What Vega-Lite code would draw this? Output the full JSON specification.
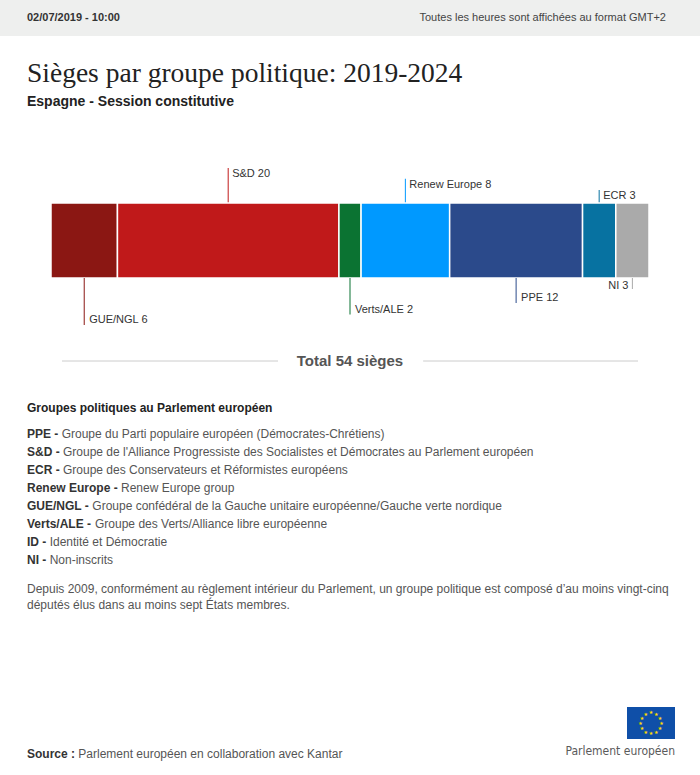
{
  "$schema": "https://vega.github.io/schema/vega-lite/v6.json",
  "padding": 0,
  "background": "white",
  "spacing": 0,
  "bounds": "flush",
  "center": true,
  "config": {"view": {"stroke": null}, "font": "Liberation Sans", "text": {"font": "Liberation Sans"}},
  "datasets": {
    "seats": [
      {"group": "GUE/NGL", "seats": 6, "order": 1, "country": "Espagne"},
      {"group": "S&D", "seats": 20, "order": 2, "country": "Espagne"},
      {"group": "Verts/ALE", "seats": 2, "order": 3, "country": "Espagne"},
      {"group": "Renew Europe", "seats": 8, "order": 4, "country": "Espagne"},
      {"group": "PPE", "seats": 12, "order": 5, "country": "Espagne"},
      {"group": "ECR", "seats": 3, "order": 6, "country": "Espagne"},
      {"group": "NI", "seats": 3, "order": 7, "country": "Espagne"}
    ],
    "legend": [
      {"code": "PPE -", "desc": "Groupe du Parti populaire européen (Démocrates-Chrétiens)"},
      {"code": "S&D -", "desc": "Groupe de l'Alliance Progressiste des Socialistes et Démocrates au Parlement européen"},
      {"code": "ECR -", "desc": "Groupe des Conservateurs et Réformistes européens"},
      {"code": "Renew Europe -", "desc": "Renew Europe group"},
      {"code": "GUE/NGL -", "desc": "Groupe confédéral de la Gauche unitaire européenne/Gauche verte nordique"},
      {"code": "Verts/ALE -", "desc": "Groupe des Verts/Alliance libre européenne"},
      {"code": "ID -", "desc": "Identité et Démocratie"},
      {"code": "NI -", "desc": "Non-inscrits"}
    ],
    "stars": [
      {"star": 1}, {"star": 2}, {"star": 3}, {"star": 4}, {"star": 5}, {"star": 6},
      {"star": 7}, {"star": 8}, {"star": 9}, {"star": 10}, {"star": 11}, {"star": 12}
    ]
  },
  "vconcat": [
    {
      "width": 700,
      "height": 36,
      "view": {"fill": "#eeefee", "stroke": null},
      "data": {"values": [{}]},
      "title": {
        "text": "Sièges par groupe politique: 2019-2024",
        "subtitle": "Espagne - Session constitutive",
        "orient": "bottom",
        "anchor": "start",
        "frame": "group",
        "dx": 27,
        "offset": 24,
        "font": "Liberation Serif",
        "fontSize": 27.5,
        "fontWeight": "normal",
        "color": "#222222",
        "subtitleFont": "Liberation Sans",
        "subtitleFontSize": 14,
        "subtitleFontWeight": "bold",
        "subtitleColor": "#222222",
        "subtitlePadding": 7
      },
      "layer": [
        {
          "mark": {"type": "text", "align": "left", "baseline": "middle", "fontSize": 11, "fontWeight": "bold", "color": "#333333", "text": "02/07/2019 - 10:00"},
          "encoding": {"x": {"datum": 0, "type": "quantitative", "scale": {"domain": [0, 1], "range": [27, 666]}, "axis": null}}
        },
        {
          "mark": {"type": "text", "align": "right", "baseline": "middle", "fontSize": 11, "color": "#444444", "text": "Toutes les heures sont affichées au format GMT+2"},
          "encoding": {"x": {"datum": 1, "type": "quantitative"}}
        }
      ]
    },
    {
      "width": 598,
      "height": 167,
      "data": {"name": "seats"},
      "transform": [
        {"stack": "seats", "groupby": [], "sort": [{"field": "order", "order": "ascending"}], "as": ["x0", "x1"]},
        {"fold": ["x0", "x1"], "as": ["edge", "pos"]},
        {"aggregate": [{"op": "mean", "field": "pos", "as": "mid"}], "groupby": ["group", "seats", "order"]},
        {"window": [{"op": "row_number", "as": "r"}], "sort": [{"field": "order", "order": "descending"}]},
        {"filter": "datum.r % 2 == 0"}
      ],
      "encoding": {
        "x": {"field": "mid", "type": "quantitative", "scale": {"domain": [0, 54], "padding": 0, "nice": false}, "axis": null},
        "y": {"field": "r", "type": "quantitative", "scale": {"type": "pow", "exponent": 0.9, "domain": [0, 6], "range": [167, 132], "padding": 0, "nice": false}, "axis": null}
      },
      "layer": [
        {
          "mark": {"type": "bar", "orient": "vertical", "width": 1},
          "encoding": {
            "color": {"field": "group", "type": "nominal", "scale": {"domain": ["GUE/NGL", "S&D", "Verts/ALE", "Renew Europe", "PPE", "ECR", "NI"], "range": ["#8b1713", "#c0191a", "#0b7332", "#0099ff", "#2b4a8b", "#0772a1", "#aaaaaa"]}, "legend": null}
          }
        },
        {
          "mark": {"type": "text", "align": "left", "baseline": "top", "dx": 4, "fontSize": 11, "color": "#333333", "text": {"expr": "datum.group + ' ' + datum.seats"}}
        }
      ]
    },
    {
      "width": 598,
      "height": 75,
      "data": {"name": "seats"},
      "mark": {"type": "bar", "stroke": "white", "strokeWidth": 1.5},
      "encoding": {
        "x": {"field": "seats", "type": "quantitative", "stack": "zero", "scale": {"domain": [0, 54], "padding": 0, "nice": false}, "axis": null},
        "y": {"field": "country", "type": "nominal", "scale": {"paddingInner": 0, "paddingOuter": 0}, "axis": null},
        "color": {"field": "group", "type": "nominal", "scale": {"domain": ["GUE/NGL", "S&D", "Verts/ALE", "Renew Europe", "PPE", "ECR", "NI"], "range": ["#8b1713", "#c0191a", "#0b7332", "#0099ff", "#2b4a8b", "#0772a1", "#aaaaaa"]}, "legend": null},
        "order": {"field": "order", "type": "quantitative"}
      }
    },
    {
      "width": 598,
      "height": 62,
      "data": {"name": "seats"},
      "transform": [
        {"stack": "seats", "groupby": [], "sort": [{"field": "order", "order": "ascending"}], "as": ["x0", "x1"]},
        {"fold": ["x0", "x1"], "as": ["edge", "pos"]},
        {"aggregate": [{"op": "mean", "field": "pos", "as": "mid"}], "groupby": ["group", "seats", "order"]},
        {"window": [{"op": "row_number", "as": "r"}], "sort": [{"field": "order", "order": "descending"}]},
        {"filter": "datum.r % 2 == 1"}
      ],
      "encoding": {
        "x": {"field": "mid", "type": "quantitative", "scale": {"domain": [0, 54], "padding": 0, "nice": false}, "axis": null},
        "y": {"field": "r", "type": "quantitative", "scale": {"type": "pow", "exponent": 0.75, "domain": [0, 7], "range": [0, 47], "padding": 0, "nice": false}, "axis": null}
      },
      "layer": [
        {
          "mark": {"type": "bar", "orient": "vertical", "width": 1},
          "encoding": {
            "color": {"field": "group", "type": "nominal", "scale": {"domain": ["GUE/NGL", "S&D", "Verts/ALE", "Renew Europe", "PPE", "ECR", "NI"], "range": ["#8b1713", "#c0191a", "#0b7332", "#0099ff", "#2b4a8b", "#0772a1", "#aaaaaa"]}, "legend": null}
          }
        },
        {
          "transform": [{"filter": "datum.r > 1"}],
          "mark": {"type": "text", "align": "left", "baseline": "alphabetic", "dx": 5, "dy": -2, "fontSize": 11, "color": "#333333", "text": {"expr": "datum.group + ' ' + datum.seats"}}
        },
        {
          "transform": [{"filter": "datum.r == 1"}],
          "mark": {"type": "text", "align": "right", "baseline": "alphabetic", "dx": -4, "dy": 0, "fontSize": 11, "color": "#333333", "text": {"expr": "datum.group + ' ' + datum.seats"}}
        }
      ]
    },
    {
      "width": 576,
      "height": 42,
      "data": {"name": "seats"},
      "transform": [{"aggregate": [{"op": "sum", "field": "seats", "as": "total"}]}],
      "title": {
        "text": "Groupes politiques au Parlement européen",
        "orient": "bottom",
        "anchor": "start",
        "frame": "group",
        "dx": -35,
        "offset": 20.5,
        "font": "Liberation Sans",
        "fontSize": 12,
        "fontWeight": "bold",
        "color": "#222222"
      },
      "layer": [
        {
          "mark": {"type": "rule", "color": "#cccccc", "strokeWidth": 1},
          "encoding": {"x": {"datum": 0, "type": "quantitative", "scale": {"domain": [0, 1]}, "axis": null}, "x2": {"datum": 0.375}}
        },
        {
          "mark": {"type": "rule", "color": "#cccccc", "strokeWidth": 1},
          "encoding": {"x": {"datum": 0.627, "type": "quantitative"}, "x2": {"datum": 1}}
        },
        {
          "mark": {"type": "text", "align": "center", "baseline": "middle", "fontSize": 15, "fontWeight": "bold", "color": "#555555", "text": {"expr": "'Total ' + datum.total + ' sièges'"}},
          "encoding": {"x": {"datum": 0.5, "type": "quantitative"}}
        }
      ]
    },
    {
      "width": 646,
      "height": 190,
      "data": {"name": "legend"},
      "title": {
        "text": ["Depuis 2009, conformément au règlement intérieur du Parlement, un groupe politique est composé d’au moins vingt-cinq", "députés élus dans au moins sept États membres."],
        "orient": "bottom",
        "anchor": "start",
        "frame": "group",
        "offset": 11.5,
        "font": "Liberation Sans",
        "fontSize": 12,
        "fontWeight": "normal",
        "color": "#555555",
        "lineHeight": 16
      },
      "encoding": {
        "y": {"field": "code", "type": "nominal", "sort": null, "scale": {"type": "point", "range": [56, 182], "padding": 0}, "axis": null},
        "x": {"datum": 0, "type": "quantitative", "scale": {"domain": [0, 1]}, "axis": null}
      },
      "layer": [
        {
          "mark": {"type": "text", "align": "left", "baseline": "alphabetic", "fontSize": 12, "fontWeight": "bold", "color": "#333333"},
          "encoding": {"text": {"field": "code", "type": "nominal"}}
        },
        {
          "mark": {"type": "text", "align": "left", "baseline": "alphabetic", "fontSize": 12, "color": "#555555", "dx": {"expr": "12*(0.278*length(replace(datum.code, regexp('[^Iijl/ ]','g'), '')) + 0.333*length(replace(datum.code, regexp('[^t:-]','g'), '')) + 0.389*length(replace(datum.code, regexp('[^r]','g'), '')) + 0.556*length(replace(datum.code, regexp('[^acesvxyzk]','g'), '')) + 0.611*length(replace(datum.code, regexp('[^FLTZbdghnopqu]','g'), '')) + 0.667*length(replace(datum.code, regexp('[^BEPSV]','g'), '')) + 0.722*length(replace(datum.code, regexp('[^ACDHKNRUXY&]','g'), '')) + 0.778*length(replace(datum.code, regexp('[^GOQw]','g'), '')) + 0.889*length(replace(datum.code, regexp('[^Mm]','g'), '')) + 0.278)"}},
          "encoding": {"text": {"field": "desc", "type": "nominal"}}
        }
      ]
    },
    {
      "width": 646,
      "height": 203,
      "data": {"values": [{}]},
      "encoding": {
        "y": {"datum": 0, "type": "quantitative", "scale": {"domain": [0, 1]}, "axis": null}
      },
      "layer": [
        {
          "mark": {"type": "text", "align": "left", "baseline": "alphabetic", "dy": -17, "fontSize": 12, "fontWeight": "bold", "color": "#333333", "text": "Source :"},
          "encoding": {"x": {"datum": 0, "type": "quantitative", "scale": {"domain": [0, 1]}, "axis": null}}
        },
        {
          "mark": {"type": "text", "align": "left", "baseline": "alphabetic", "dy": -17, "dx": 51.3, "fontSize": 12, "color": "#555555", "text": "Parlement européen en collaboration avec Kantar"},
          "encoding": {"x": {"datum": 0, "type": "quantitative"}}
        },
        {
          "mark": {"type": "text", "align": "right", "baseline": "alphabetic", "dy": -20, "dx": 2, "fontSize": 12, "font": "'Liberation Sans Narrow', 'DejaVu Sans Condensed', 'Liberation Sans', sans-serif", "color": "#5a5a5a", "text": "Parlement européen"},
          "encoding": {"x": {"datum": 1, "type": "quantitative"}}
        },
        {
          "mark": {"type": "rect", "color": "#0f4fa8"},
          "encoding": {
            "x": {"datum": 0.9288, "type": "quantitative"},
            "x2": {"datum": 1.0031},
            "y": {"datum": 0.335, "type": "quantitative"},
            "y2": {"datum": 0.177}
          }
        },
        {
          "data": {"name": "stars"},
          "mark": {"type": "text", "text": "★", "font": "DejaVu Sans", "fontSize": 5, "color": "#ffde00", "radius": 10.5, "baseline": "middle", "align": "center"},
          "encoding": {
            "x": {"datum": 0.9659, "type": "quantitative"},
            "y": {"datum": 0.2562, "type": "quantitative"},
            "theta": {"aggregate": "count", "type": "quantitative", "stack": true, "scale": {"range": [-0.2618, 6.0214]}},
            "detail": {"field": "star", "type": "nominal"}
          }
        }
      ]
    }
  ]
}
